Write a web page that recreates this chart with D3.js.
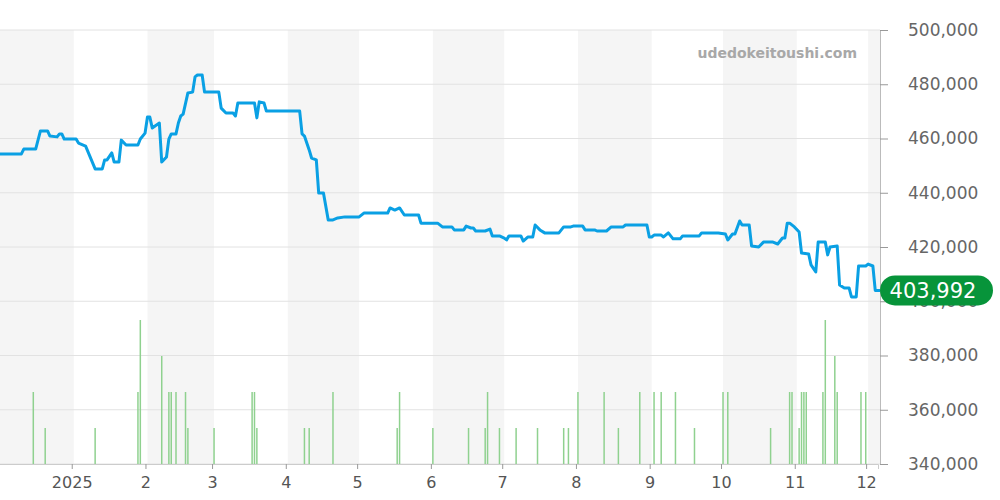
<!DOCTYPE html>
<html>
<head>
<meta charset="utf-8">
<script src="https://cdn.jsdelivr.net/npm/d3@7"></script>
<style>
  body { margin: 0; background: #fff; }
  text { font-family: "DejaVu Sans", sans-serif; }
</style>
</head>
<body>
<svg id="chart" width="1000" height="500"></svg>
<script>
// price series: day offset from 2024-12-01, price (JPY)
var priceDays = [0,9,10,15,17,20,21,24,25,26,27,32,33,36,40,43,44,45,47,48,50,51,53,58,59,61,62,63,64,67,68,70,71,72,74,75,76,77,79,81,82,83,85,86,92,93,95,98,99,100,107,108,109,111,112,126,127,128,130,131,133,134,136,138,140,142,145,151,153,163,164,166,168,170,176,177,184,186,190,191,195,196,198,199,200,204,206,207,210,212,213,214,219,220,222,224,225,227,229,235,237,240,241,245,246,250,251,255,257,262,263,272,273,274,275,278,279,281,283,286,287,294,295,302,305,306,308,309,311,312,315,316,319,321,325,327,329,330,331,332,334,336,337,340,341,343,344,347,348,349,352,353,355,357,358,360,361,364,365,367,368,370];
var priceValues = [454300,454300,456100,456100,462800,462800,460900,460600,461700,461700,459800,459800,458300,457200,448800,448800,452100,452100,454700,451300,451300,459400,457600,457600,459800,462000,467900,467900,463900,465700,451300,453200,459800,461700,461700,465700,468300,469000,476800,477100,482700,483400,483400,477100,477100,471200,469400,469400,468300,473100,473100,467600,473500,473100,470100,470100,461700,460900,455800,452800,452100,439900,439900,430000,430000,430700,431100,431100,432500,432500,434400,433600,434400,431800,431800,428800,428800,427400,427400,426300,426300,427700,427000,427000,425900,425900,426600,424100,424100,423300,422600,424100,424100,422200,423700,423700,428100,426300,425200,425200,427400,427400,427700,427700,426300,426300,425900,425900,427400,427400,428100,428100,423700,423700,424400,424400,423700,425200,423000,423000,424100,424100,425200,425200,424800,422600,424800,424800,429600,428100,428100,420400,420000,421800,421800,421100,423300,423300,428800,428800,427400,425500,417800,417400,413400,410800,421800,421800,417100,420000,420400,406000,404900,404900,401600,401600,413000,413000,413700,413000,403992,403992];

// volume bars: day offset, count
var volDays = [14,19,40,58,59,68,71,72,74,78,79,90,106,107,108,128,130,140,167,168,182,197,204,205,210,217,226,237,239,243,254,260,269,275,278,284,292,304,306,324,332,333,336,337,338,339,346,347,351,352,362,364];
var volCounts = [2,1,1,2,4,3,2,2,2,2,1,1,2,2,1,1,1,2,1,2,1,1,1,2,1,1,1,1,1,2,2,1,2,2,2,2,1,2,2,1,2,2,1,2,2,2,2,4,3,2,2,2];

var priceTicks = [340000,360000,380000,400000,420000,440000,460000,480000,500000];
var monthLabels = ["2025","2","3","4","5","6","7","8","9","10","11","12"];
var lastPrice = 403992;

var start = new Date(2024, 11, 1);
var end = new Date(2025, 11, 6);
var dayToDate = function (d) { return d3.timeDay.offset(start, d); };

var plotLeft = 0, plotRight = 880, plotTop = 30, plotBottom = 464;
var svg = d3.select('#chart');

var x = d3.scaleTime().domain([start, end]).range([plotLeft, plotRight]);
var y = d3.scaleLinear().domain([340000, 500000]).range([plotBottom, plotTop]);
var yVol = d3.scaleLinear().domain([0, 4]).range([plotBottom, plotBottom - 144]);

// alternating month bands
var months = d3.timeMonth.range(start, end);
months.forEach(function (m, i) {
    if (i % 2 !== 0) return;
    var x0 = x(m), x1 = Math.min(plotRight, x(d3.timeMonth.offset(m, 1)));
    svg.append('rect').attr('x', x0).attr('y', plotTop).attr('width', x1 - x0)
        .attr('height', plotBottom - plotTop).attr('fill', '#f5f5f5');
});

// horizontal grid
svg.append('g').selectAll('line').data(priceTicks).enter().append('line')
    .attr('x1', plotLeft).attr('x2', plotRight)
    .attr('y1', function (d) { return y(d); }).attr('y2', function (d) { return y(d); })
    .attr('stroke', '#e2e2e2').attr('stroke-width', 1);

// volume bars
svg.append('g').selectAll('line').data(volDays).enter().append('line')
    .attr('x1', function (d) { return x(dayToDate(d)); })
    .attr('x2', function (d) { return x(dayToDate(d)); })
    .attr('y1', plotBottom)
    .attr('y2', function (d, i) { return yVol(volCounts[i]); })
    .attr('stroke', '#8fd18f').attr('stroke-width', 1.5);

// price line
var line = d3.line()
    .x(function (d) { return x(dayToDate(d)); })
    .y(function (d, i) { return y(priceValues[i]); });
svg.append('path').datum(priceDays).attr('d', line)
    .attr('fill', 'none').attr('stroke', '#0aa0e4').attr('stroke-width', 3)
    .attr('stroke-linejoin', 'round');

// right axis
var yAxis = d3.axisRight(y).tickValues(priceTicks).tickSize(8).tickPadding(20)
    .tickFormat(d3.format(','));
var gy = svg.append('g').attr('transform', 'translate(' + plotRight + ',0)').call(yAxis);
gy.select('.domain').attr('stroke', '#bbb');
gy.selectAll('.tick line').attr('stroke', '#999');
gy.selectAll('.tick text').attr('fill', '#666').style('font-size', '17px')
    .style('font-family', '"DejaVu Sans", sans-serif');

// bottom axis
var xAxis = d3.axisBottom(x).tickValues(months.slice(1)).tickSize(5).tickPadding(8)
    .tickFormat(function (d, i) { return monthLabels[i]; });
var gx = svg.append('g').attr('transform', 'translate(-2,' + plotBottom + ')').call(xAxis);
gx.select('.domain').attr('stroke', '#ccc');
gx.selectAll('.tick line').attr('stroke', '#999');
gx.selectAll('.tick text').attr('fill', '#555').style('font-size', '16px')
    .style('font-family', '"DejaVu Sans", sans-serif');

// watermark
svg.append('text').attr('x', 857).attr('y', 58).attr('text-anchor', 'end')
    .attr('fill', '#a8a8a8').style('font-size', '14px').style('font-weight', 'bold')
    .text('udedokeitoushi.com');

// last price badge
var by = y(lastPrice);
svg.append('rect').attr('x', 880).attr('y', by - 15).attr('width', 113).attr('height', 30)
    .attr('rx', 15).attr('fill', '#07943a');
svg.append('text').attr('x', 933).attr('y', by + 7.5).attr('text-anchor', 'middle')
    .attr('fill', '#fff').style('font-size', '21px').text(d3.format(',')(lastPrice));
</script>
</body>
</html>
